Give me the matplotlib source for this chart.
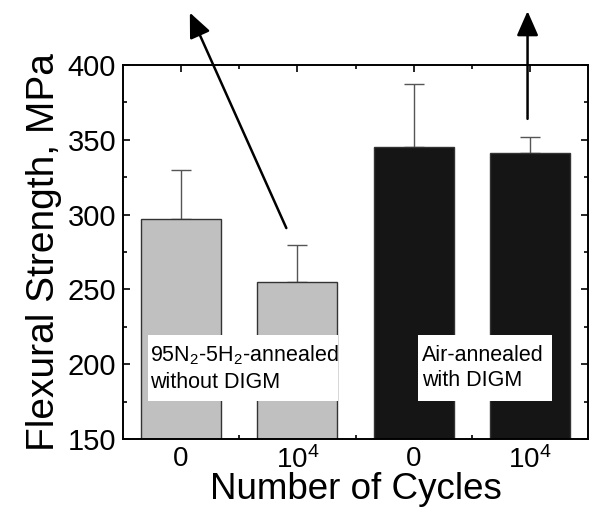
import matplotlib
matplotlib.use('Agg')
import matplotlib.pyplot as plt
from matplotlib.patches import Rectangle
from matplotlib.ticker import MultipleLocator, FixedLocator

plt.rcParams['font.family'] = ['Liberation Sans', 'DejaVu Sans']
plt.rcParams['mathtext.fontset'] = 'custom'
plt.rcParams['mathtext.rm'] = 'Liberation Sans'

positions = [1, 3, 5, 7]
strength = [297, 254.7, 345.3, 341.5]
err_up = [32.5, 24.7, 42, 10.5]
bar_colors = ['#c0c0c0', '#c0c0c0', '#151515', '#151515']
tick_labels = ['0', r'$\mathregular{10^4}$', '0', r'$\mathregular{10^4}$']

fig = plt.figure(figsize=(5.89, 5.12), dpi=100)
ax = fig.add_axes([123/589, 1 - 439/512, 465/589, (439 - 65)/512])

ax.bar(positions, strength, width=1.38, color=bar_colors,
       edgecolor='#333333', linewidth=1, zorder=2)
ax.errorbar(positions, strength, yerr=[[0]*4, err_up], fmt='none',
            ecolor='#555555', elinewidth=1, capsize=7, capthick=1, zorder=1)

ax.set_xlim(0, 8)
ax.set_ylim(150, 400)
ax.xaxis.set_major_locator(FixedLocator(positions))
ax.xaxis.set_minor_locator(FixedLocator([2, 4, 6]))
ax.set_xticklabels(tick_labels)
ax.yaxis.set_major_locator(MultipleLocator(50))
ax.yaxis.set_minor_locator(MultipleLocator(25))
ax.tick_params(which='both', direction='in', top=True, right=True, width=1.2)
ax.tick_params(axis='y', pad=5, labelsize=21)
ax.tick_params(axis='x', pad=5, labelsize=20)
ax.tick_params(which='major', length=5)
ax.tick_params(which='minor', length=3)
for s in ax.spines.values():
    s.set_linewidth(1.4)

ax.set_ylabel('Flexural Strength, MPa', fontsize=28, labelpad=4)
ax.set_xlabel('Number of Cycles', fontsize=26.5, labelpad=-1)

# white label boxes
ax.add_patch(Rectangle((0.43, 175.4), 3.27, 44.1, facecolor='white',
                       edgecolor='none', zorder=3))
ax.add_patch(Rectangle((5.07, 175.4), 2.31, 44.1, facecolor='white',
                       edgecolor='none', zorder=3))
ax.text(0.46, 197.5, '95N$_2$-5H$_2$-annealed\nwithout DIGM', fontsize=15.5,
        va='center', ha='left', linespacing=1.3, zorder=4)
ax.text(5.14, 197.5, 'Air-annealed\nwith DIGM', fontsize=15.5,
        va='center', ha='left', linespacing=1.3, zorder=4)

arrow = dict(arrowstyle='-|>,head_length=0.75,head_width=0.33', lw=1.8,
             color='black', mutation_scale=20, shrinkA=0, shrinkB=0)
ax.annotate('', xy=(1.15, 435), xytext=(2.81, 291), arrowprops=arrow,
            annotation_clip=False)
ax.annotate('', xy=(6.96, 436), xytext=(6.96, 364), arrowprops=arrow,
            annotation_clip=False)

fig.savefig('out.png', dpi=100)
